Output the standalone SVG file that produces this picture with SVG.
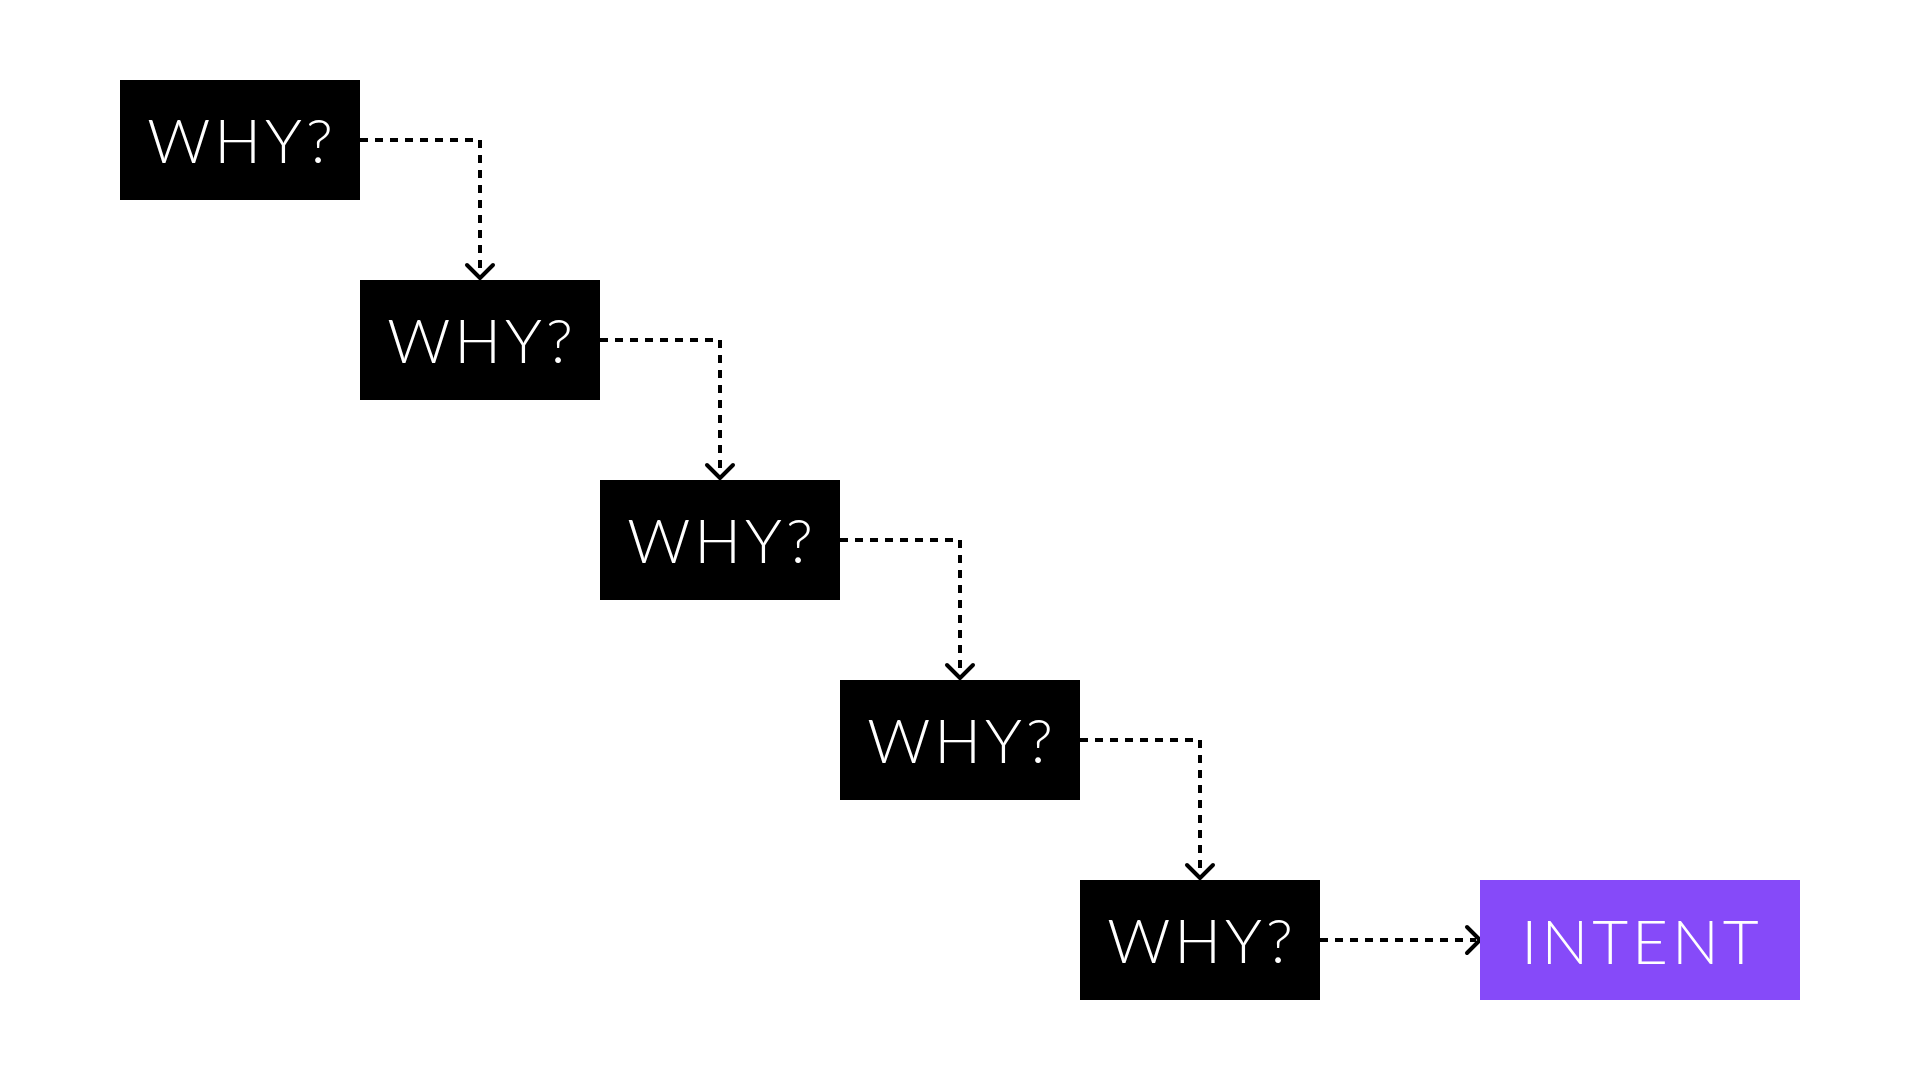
<svg xmlns="http://www.w3.org/2000/svg" width="1920" height="1080" viewBox="0 0 1920 1080">
<style>
.box{fill:#000}
.intent{fill:#864AF9}
.lbl{fill:#fff;font-family:Lato,"Open Sans","Liberation Sans",sans-serif;font-weight:300;font-size:62px;text-anchor:middle;letter-spacing:4px}
.conn{fill:none;stroke:#000;stroke-width:4;stroke-dasharray:8 7}
.head{fill:none;stroke:#000;stroke-width:4;stroke-linecap:round;stroke-linejoin:round}
</style>
<rect width="1920" height="1080" fill="#fff"/>
<g id="connectors">
<path class="conn" d="M360,140 H480 V276"/>
<path class="head" d="M467,265 L480,278 L493,265"/>
<path class="conn" d="M600,340 H720 V476"/>
<path class="head" d="M707,465 L720,478 L733,465"/>
<path class="conn" d="M840,540 H960 V676"/>
<path class="head" d="M947,665 L960,678 L973,665"/>
<path class="conn" d="M1080,740 H1200 V876"/>
<path class="head" d="M1187,865 L1200,878 L1213,865"/>
<path class="conn" d="M1320,940 H1476"/>
<path class="head" d="M1467,927 L1480,940 L1467,953"/>
</g>
<g id="why1"><rect class="box" x="120" y="80" width="240" height="120"/><text class="lbl" x="242" y="163">WHY?</text></g>
<g id="why2"><rect class="box" x="360" y="280" width="240" height="120"/><text class="lbl" x="482" y="363">WHY?</text></g>
<g id="why3"><rect class="box" x="600" y="480" width="240" height="120"/><text class="lbl" x="722" y="563">WHY?</text></g>
<g id="why4"><rect class="box" x="840" y="680" width="240" height="120"/><text class="lbl" x="962" y="763">WHY?</text></g>
<g id="why5"><rect class="box" x="1080" y="880" width="240" height="120"/><text class="lbl" x="1202" y="963">WHY?</text></g>
<g id="intent"><rect class="intent" x="1480" y="880" width="320" height="120"/><text class="lbl" x="1642" y="964">INTENT</text></g>
</svg>
